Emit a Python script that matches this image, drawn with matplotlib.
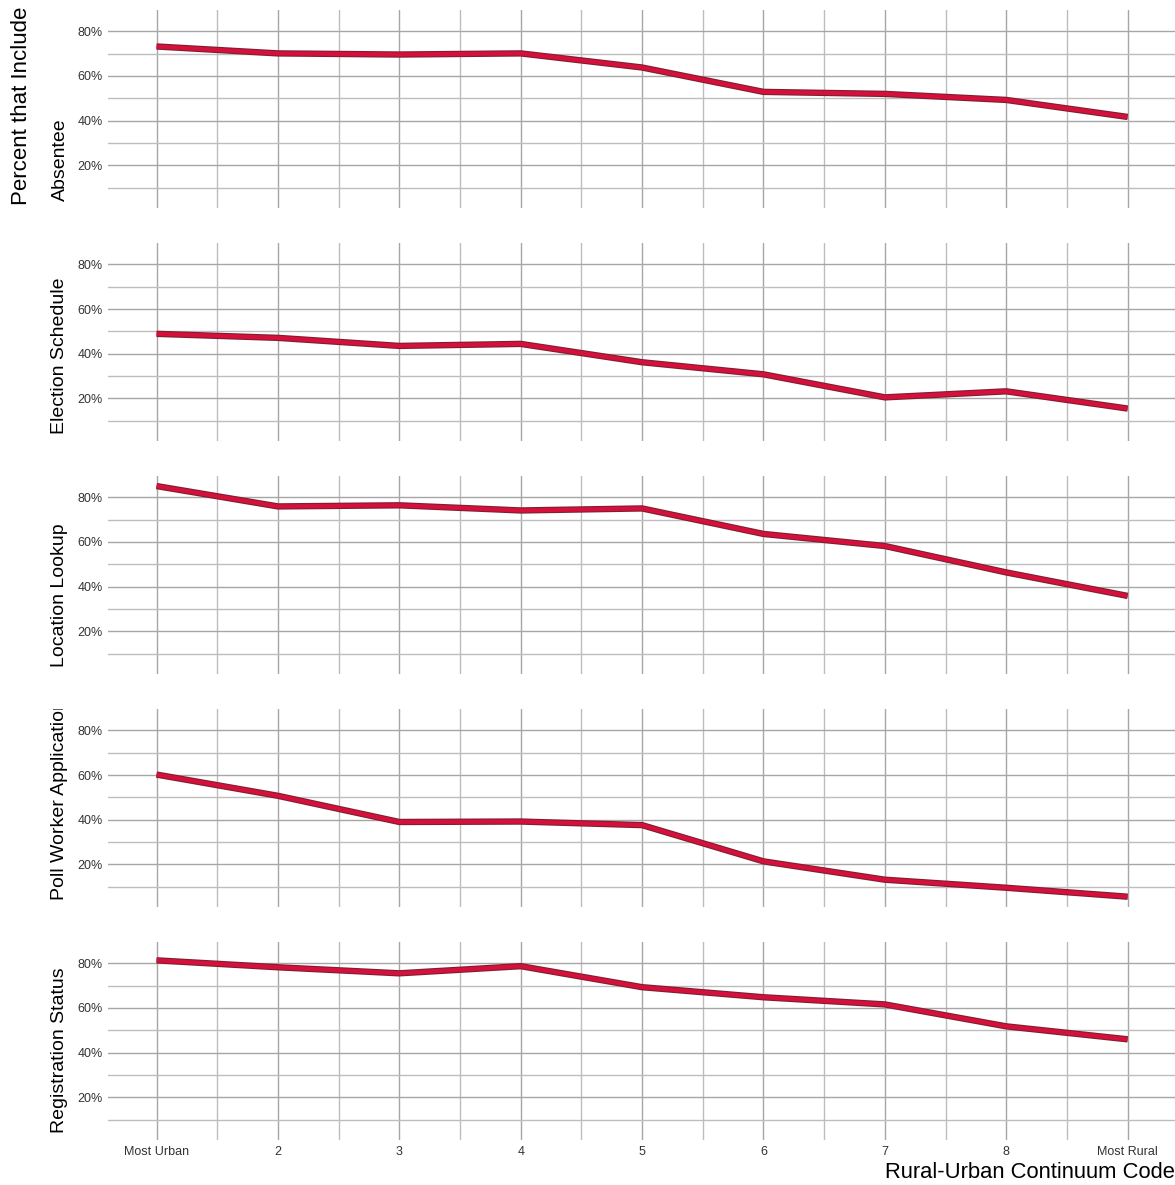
import numpy as np
import matplotlib.pyplot as plt
from matplotlib.ticker import FixedLocator, FuncFormatter
from matplotlib.transforms import Bbox

plt.rcParams['font.family'] = ['Liberation Sans', 'DejaVu Sans']

# Rural-urban continuum codes (1 = most urban, 9 = most rural)
codes = [1, 2, 3, 4, 5, 6, 7, 8, 9]
code_labels = ['Most Urban', '2', '3', '4', '5', '6', '7', '8', 'Most Rural']

# Percent of sites that include each item, per code
absentee = [73.2, 70.1, 69.6, 70.1, 63.8, 52.9, 52.0, 49.3, 41.7]
election_schedule = [48.9, 47.1, 43.5, 44.4, 36.2, 30.8, 20.5, 23.2, 15.5]
location_lookup = [85.0, 75.9, 76.4, 74.1, 75.0, 63.6, 58.2, 46.4, 35.9]
poll_worker = [60.2, 50.7, 39.0, 39.2, 37.6, 21.4, 13.2, 9.6, 5.6]
registration = [81.3, 78.2, 75.5, 78.7, 69.3, 64.8, 61.6, 51.8, 46.0]

panels = [
    ('Absentee', absentee),
    ('Election Schedule', election_schedule),
    ('Location Lookup', location_lookup),
    ('Poll Worker Applications', poll_worker),
    ('Registration Status', registration),
]

W, H = 1175, 1185
fig = plt.figure(figsize=(W / 100, H / 100), dpi=100)

left = 108 / W
width = 1 - left
ph = 198 / H
tops = [10, 243, 476, 709, 942]

grid_major = '#a6a6a6'
grid_minor = '#bdbdbd'

for i, (name, vals) in enumerate(panels):
    top = tops[i]
    ax = fig.add_axes([left, 1 - (top + 198) / H, width, ph])
    ax.set_xlim(0.6, 9.39)
    ax.set_ylim(1.0, 89.5)
    for s in ax.spines.values():
        s.set_visible(False)
    ax.xaxis.set_major_locator(FixedLocator(codes))
    ax.xaxis.set_minor_locator(FixedLocator(np.arange(1.5, 9.5, 1)))
    ax.yaxis.set_major_locator(FixedLocator([20, 40, 60, 80]))
    ax.yaxis.set_minor_locator(FixedLocator([10, 30, 50, 70]))
    ax.yaxis.set_major_formatter(FuncFormatter(lambda v, p: f'{v:.0f}%'))
    ax.grid(True, which='major', color=grid_major, lw=1.0)
    ax.grid(True, which='minor', color=grid_minor, lw=1.0)
    ax.set_axisbelow(True)
    ax.tick_params(which='both', length=0, labelsize=9, colors='#333333', pad=4)
    if i == len(panels) - 1:
        ax.set_xticklabels(code_labels)
        ax.tick_params(axis='x', pad=4)
    else:
        ax.set_xticklabels([])

    ax.plot(codes, vals, color='#7d1f30', lw=4.6, solid_capstyle='butt', zorder=3)
    ax.plot(codes, vals, color='#d6103c', lw=3.0, solid_capstyle='butt', zorder=4)

    # facet strip label on the left, clipped to the panel height
    bottom_px = top + 198 - 7
    t = fig.text(60 / W, 1 - bottom_px / H, name, rotation=90, fontsize=14,
                 ha='center', va='bottom', color='black')
    t.set_clip_on(True)
    t.set_clip_box(Bbox.from_extents(0, H - (top + 198), W, H - top))

fig.text(22 / W, 1 - 205 / H, 'Percent that Include', rotation=90, fontsize=16,
         ha='center', va='bottom', color='black')
fig.text(1.0, 1 - 1172 / H, 'Rural-Urban Continuum Code', fontsize=15.8,
         ha='right', va='center', color='black')

fig.savefig('out.png', dpi=100, facecolor='white')
